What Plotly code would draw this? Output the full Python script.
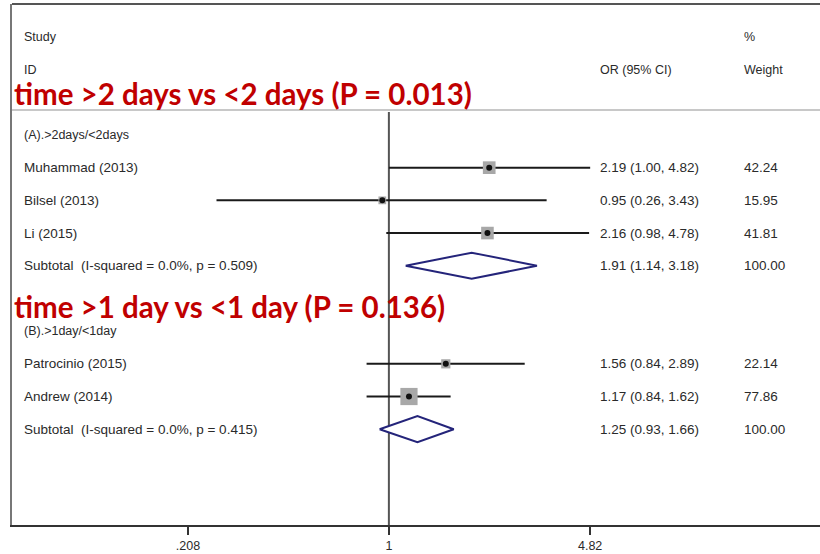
import plotly.graph_objects as go
import math

# ---------------- data ----------------
group_titles = ["time >2 days vs <2 days (P = 0.013)", "time >1 day vs <1 day (P = 0.136)"]
group_labels = ["(A).>2days/<2days", "(B).>1day/<1day"]

studies_a = ["Muhammad (2013)", "Bilsel (2013)", "Li (2015)"]
or_a = [2.19, 0.95, 2.16]
lo_a = [1.00, 0.26, 0.98]
hi_a = [4.82, 3.43, 4.78]
wt_a = [42.24, 15.95, 41.81]
sub_a = [1.91, 1.14, 3.18]
sub_a_label = "Subtotal  (I-squared = 0.0%, p = 0.509)"

studies_b = ["Patrocinio (2015)", "Andrew (2014)"]
or_b = [1.56, 1.17]
lo_b = [0.84, 0.84]
hi_b = [2.89, 1.62]
wt_b = [22.14, 77.86]
sub_b = [1.25, 0.93, 1.66]
sub_b_label = "Subtotal  (I-squared = 0.0%, p = 0.415)"

tick_vals = [0.208, 1, 4.82]
tick_text = [".208", "1", "4.82"]

# ---------------- layout constants ----------------
W, H = 820, 554
ML, MT, MB, MR = 12, 4, 29, 0
PW = W - ML - MR
TXT = "#2a2a2a"
FONT = "Liberation Sans, Arial, sans-serif"
FS = 13.5
RED = "#C00000"
NAVY = "#24247a"

def px2paper(px):
    return (px - ML) / PW

def txt(x, y, s, size=FS):
    return dict(x=px2paper(x), y=y, xref="paper", yref="y", text=s,
                showarrow=False, xanchor="left", yanchor="middle",
                font=dict(size=size, color=TXT, family=FONT))

groups = [
    (group_labels[0], studies_a, or_a, lo_a, hi_a, wt_a, sub_a, sub_a_label),
    (group_labels[1], studies_b, or_b, lo_b, hi_b, wt_b, sub_b, sub_b_label),
]

fig = go.Figure()
ann = []
shapes = []

row = 0
for gi, (glab, names, ors, los, his, wts, sub, sublab) in enumerate(groups):
    ann.append(txt(22, row, glab, 12.5))
    row += 1
    for name, o, l, h, w in zip(names, ors, los, his, wts):
        fig.add_trace(go.Scatter(x=[l, h], y=[row, row], mode="lines",
                                 line=dict(color="#1a1a1a", width=2),
                                 hoverinfo="skip", showlegend=False))
        fig.add_trace(go.Scatter(x=[o], y=[row], mode="markers",
                                 marker=dict(symbol="square", size=1.95 * math.sqrt(w),
                                             color="#a8a8a8", line=dict(width=0)),
                                 hoverinfo="skip", showlegend=False))
        fig.add_trace(go.Scatter(x=[o], y=[row], mode="markers",
                                 marker=dict(symbol="circle", size=6, color="#111111"),
                                 hoverinfo="skip", showlegend=False))
        ann.append(txt(22, row, name))
        ann.append(txt(598, row, f"{o:.2f} ({l:.2f}, {h:.2f})"))
        ann.append(txt(742, row, f"{w:.2f}"))
        row += 1
    est, slo, shi = sub
    fig.add_trace(go.Scatter(x=[slo, est, shi, est, slo], y=[row, row - 0.4, row, row + 0.4, row],
                             mode="lines", fill="toself", fillcolor="white",
                             line=dict(color=NAVY, width=2),
                             hoverinfo="skip", showlegend=False))
    ann.append(txt(22, row, sublab))
    ann.append(txt(598, row, f"{est:.2f} ({slo:.2f}, {shi:.2f})"))
    ann.append(txt(742, row, f"{sum(wts):.2f}"))
    row += 2

# header
ann += [
    txt(22, -3, "Study", 12.5),
    txt(22, -2, "ID", 12.5),
    txt(598, -2, "OR (95% CI)", 12.5),
    txt(742, -3, "%", 12.5),
    txt(742, -2, "Weight", 12.5),
]

# red titles
title_y = [-1.28, 5.26]
for t, yy in zip(group_titles, title_y):
    ann.append(dict(x=px2paper(12), y=yy, xref="paper", yref="y", text=f"<b>{t}</b>",
                    showarrow=False, xanchor="left", yanchor="middle",
                    font=dict(size=29.5, color=RED, family="Lato, sans-serif")))

shapes += [
    dict(type="line", xref="paper", yref="y", x0=0, x1=1, y0=-0.765, y1=-0.765,
         line=dict(color="#c8c8c8", width=2), layer="below"),
    dict(type="line", xref="paper", yref="paper", x0=0, x1=1, y0=1, y1=1,
         line=dict(color="#555555", width=2)),
    dict(type="line", xref="x", yref="y", x0=1, x1=1, y0=-0.7, y1=11.93,
         line=dict(color="#555555", width=2), layer="below"),
]

fig.update_layout(
    width=W, height=H,
    margin=dict(l=ML, r=MR, t=MT, b=MB, pad=0),
    paper_bgcolor="white", plot_bgcolor="white",
    annotations=ann, shapes=shapes, showlegend=False,
    xaxis=dict(type="log", range=[-1.279, 1.463], tickvals=tick_vals, ticktext=tick_text,
               showgrid=False, zeroline=False, showline=True, linecolor="#333333", linewidth=2,
               ticks="outside", ticklen=8, tickwidth=1.5, tickcolor="#333333",
               tickfont=dict(size=12.5, color=TXT, family=FONT), fixedrange=True),
    yaxis=dict(range=[11.93, -4.006], showgrid=False, zeroline=False, showticklabels=False,
               showline=True, linecolor="#777777", linewidth=2, ticks="", fixedrange=True),
)

fig.write_html("out.html", config={"displayModeBar": False},
               post_script="document.body.style.margin='0';document.body.style.overflow='hidden';")
